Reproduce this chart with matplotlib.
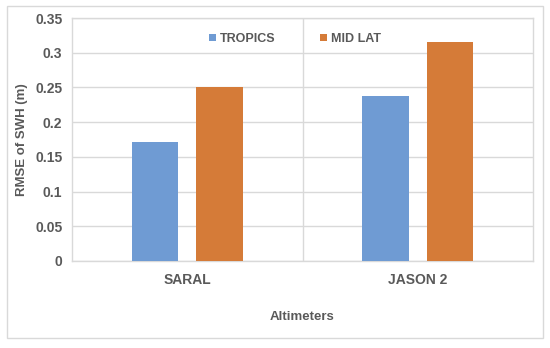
import numpy as np
import matplotlib.pyplot as plt
from matplotlib.patches import Rectangle

plt.rcParams['font.family'] = ['Liberation Sans', 'DejaVu Sans']
plt.rcParams['font.weight'] = 'bold'

# Data
altimetre = ['SARAL', 'JASON 2']
serier = ['TROPICS', 'MID LAT']
tropics = [0.171, 0.238]
mid_lat = [0.251, 0.315]
y_ticks = [0, 0.05, 0.1, 0.15, 0.2, 0.25, 0.3, 0.35]
y_tick_labels = ['0', '0.05', '0.1', '0.15', '0.2', '0.25', '0.3', '0.35']

blå = '#6F9BD3'
orange = '#D57B38'
textfärg = '#595959'
rutnät = '#D9D9D9'

fig = plt.figure(figsize=(5.5, 3.48), dpi=100)
ax = fig.add_axes([72/550, 1 - 261/348, (533-72)/550, (261-18)/348])

x = np.arange(len(altimetre))
bredd = 0.2
ax.bar(x - 0.14, tropics, bredd, color=blå, label=serier[0], zorder=3)
ax.bar(x + 0.14, mid_lat, bredd, color=orange, label=serier[1], zorder=3)

ax.set_xlim(-0.5, len(altimetre) - 0.5)
ax.set_ylim(0, 0.35)
ax.set_yticks(y_ticks)
ax.set_yticklabels(y_tick_labels)
ax.set_xticks(x)
ax.set_xticklabels(altimetre)

# Rutnät
ax.grid(axis='y', color=rutnät, linewidth=1, zorder=0)
for gräns in np.arange(0.5, len(altimetre) - 0.5):
    ax.axvline(gräns, color=rutnät, linewidth=1, zorder=0)
for side in ['left', 'right', 'top', 'bottom']:
    ax.spines[side].set_color(rutnät)
    ax.spines[side].set_linewidth(1)

ax.tick_params(axis='both', length=0, colors=textfärg, labelsize=10)
ax.tick_params(axis='x', pad=9)
ax.tick_params(axis='y', pad=7)

ax.set_xlabel('Altimeters', fontsize=9.5, color=textfärg, labelpad=17, fontweight='bold')
ax.set_ylabel('RMSE of SWH (m)', fontsize=9.5, color=textfärg, labelpad=5, fontweight='bold')

leg = ax.legend(loc='upper center', bbox_to_anchor=(0.484, 0.985), ncol=2, frameon=False,
                prop={'size': 9, 'weight': 'bold'}, handlelength=0.55, handleheight=0.55,
                columnspacing=3.6, handletextpad=0.3)
for t in leg.get_texts():
    t.set_color(textfärg)

# Ram runt diagrammet
fig.patches.append(Rectangle((7/550, 1 - 338/348), 536/550, 332/348,
                             transform=fig.transFigure, fill=False,
                             edgecolor=rutnät, linewidth=1))

fig.savefig('out.png', dpi=100)
